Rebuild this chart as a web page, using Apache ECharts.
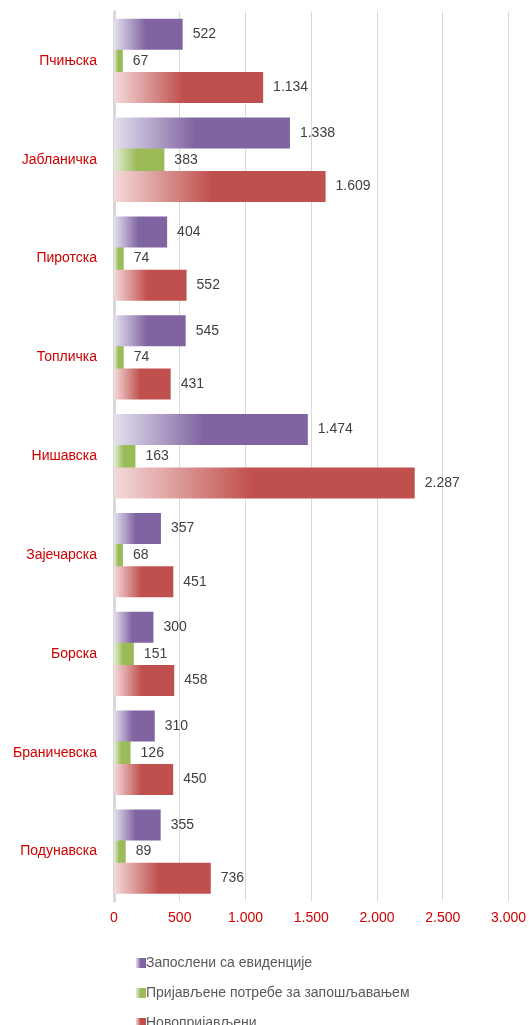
<!DOCTYPE html>
<html><head><meta charset="utf-8">
<script src="https://cdn.jsdelivr.net/npm/echarts@6/dist/echarts.min.js"></script>
<style>html,body{margin:0;padding:0;background:#fff}#c{width:529px;height:1025px}</style>
</head><body><div id="c"></div>
<script>
var categories = ['Пчињска','Јабланичка','Пиротска','Топличка','Нишавска','Зајечарска','Борска','Браничевска','Подунавска'];
var employed = [522,1338,404,545,1474,357,300,310,355];
var needs = [67,383,74,74,163,68,151,126,89];
var newReg = [1134,1609,552,431,2287,451,458,450,736];
var seriesNames = ['Запослени са евиденције','Пријављене потребе за запошљавањем','Новопријављени'];

function fmt(v){ return String(v).replace(/\B(?=(\d{3})+(?!\d))/g,'.'); }
function grad(light, full){
  return new echarts.graphic.LinearGradient(0,0,1,0,[{offset:0,color:light},{offset:0.46,color:full},{offset:1,color:full}]);
}
var font = 'Liberation Sans, Arial, sans-serif';
function mk(name, data, light, full, z){
  return {
    name:name, type:'bar', data:data, barWidth:31, barGap:'-14%', z:z,
    itemStyle:{color:grad(light,full)},
    label:{show:true, position:'right', distance:10, color:'#404040', fontSize:14, fontFamily:font, formatter:function(p){return fmt(p.value);}}
  };
}
function lg(i, top){
  return {orient:'vertical', left:131, top:top, itemWidth:10, itemHeight:10,
    icon:'rect', textStyle:{color:'#595959', fontSize:14, fontFamily:font, padding:[0,0,0,-5]},
    data:[seriesNames[i]]};
}
var chart = echarts.init(document.getElementById('c'));
chart.setOption({
  animation:false,
  grid:{left:114, right:20, top:11.5, bottom:124, containLabel:false},
  xAxis:{type:'value', min:0, max:3000, interval:500,
    axisLine:{show:false}, axisTick:{show:false},
    splitLine:{lineStyle:{color:'#d9d9d9', width:1}},
    axisLabel:{color:'#D00000', fontSize:14, fontFamily:font, margin:10, formatter:function(v){return fmt(v);}}},
  yAxis:{type:'category', data:categories, inverse:true,
    axisLine:{show:true, lineStyle:{color:'#d9d9d9', width:3}}, axisTick:{show:false},
    axisLabel:{color:'#D00000', fontSize:14, fontFamily:font, margin:17}},
  legend:[lg(0,951), lg(1,981), lg(2,1011)],
  series:[
    mk(seriesNames[0], employed, '#e4e0ee', '#8064A2', 3),
    mk(seriesNames[1], needs, '#e4eed6', '#9BBB59', 2),
    mk(seriesNames[2], newReg, '#f4dada', '#C0504D', 4)
  ]
});
</script></body></html>
